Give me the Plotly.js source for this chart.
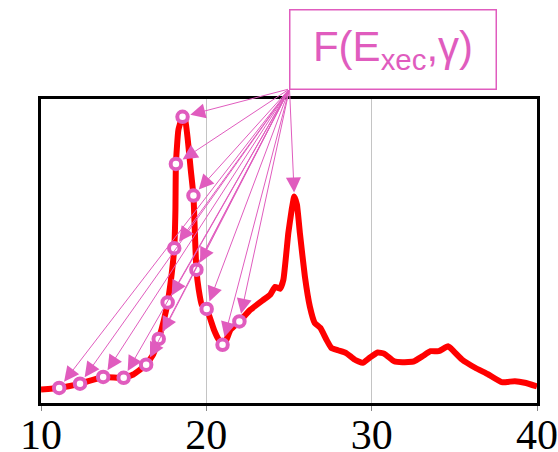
<!DOCTYPE html>
<html>
<head>
<meta charset="utf-8">
<script src="https://cdn.plot.ly/plotly-3.0.1.min.js"></script>
<style>html,body{margin:0;padding:0;background:#fff;}#chart{width:558px;height:452px;}</style>
</head>
<body>
<div id="chart"></div>
<script>
// Spectrum curve
const curveX = [10.0, 11.10, 12.36, 13.76, 15.00, 15.58, 16.36, 16.78, 17.12, 17.44, 17.66, 17.86, 18.06, 18.13, 18.16, 18.31, 18.56, 18.70, 18.88, 19.06, 19.22, 19.30, 19.40, 19.54, 19.72, 20.02, 20.46, 20.74, 20.98, 21.22, 21.46, 22.00, 22.66, 23.46, 23.86, 24.16, 24.46, 24.66, 24.96, 25.16, 25.32, 25.48, 25.66, 25.96, 26.26, 26.56, 26.90, 27.26, 27.56, 27.96, 28.46, 28.96, 29.46, 29.86, 30.36, 30.76, 31.36, 31.86, 32.56, 33.06, 33.56, 34.06, 34.62, 34.96, 35.46, 36.26, 37.06, 37.86, 38.66, 39.26, 40.0];
const curveY = [4.9, 5.4, 6.8, 9.0, 8.7, 9.8, 13.0, 16.3, 21.4, 27.7, 33.3, 40.7, 51.0, 63.5, 78.5, 89.6, 93.9, 93.5, 86.3, 76.5, 68.2, 57.0, 44.0, 37.5, 32.6, 31.2, 24.4, 21.2, 19.5, 21.2, 24.4, 27.1, 30.9, 34.2, 35.8, 38.4, 37.8, 40.7, 56.0, 63.5, 67.9, 65.2, 55.9, 41.8, 32.0, 26.6, 25.0, 21.2, 18.5, 17.7, 16.8, 14.7, 13.6, 15.2, 17.0, 16.6, 14.1, 13.8, 14.1, 15.7, 17.4, 17.4, 19.0, 17.4, 14.7, 12.0, 9.8, 7.3, 7.6, 7.1, 5.9];

// Marked points F(Exec, gamma)
const markX = [18.56, 18.16, 19.22, 18.06, 19.40, 17.66, 20.02, 17.12, 20.98, 22.00, 16.36, 15.00, 13.76, 12.36, 11.10];
const markY = [93.9, 78.5, 68.2, 51.0, 44.0, 33.3, 31.2, 21.4, 19.5, 27.1, 13.0, 8.7, 9.0, 6.8, 5.4];

// Second peak target
const peakX = [25.32];
const peakY = [67.9];

// Common arrow origin (box corner)
const tailX = 25.03;
const tailY = 103.0;

const xTicks = [10, 20, 30, 40];
const labelText = 'F(E<sub>xec</sub>,γ)';

const pink = '#e05cbe';

const traces = [
  {
    x: curveX, y: curveY, type: 'scatter', mode: 'lines',
    line: {color: '#ff0000', width: 6, shape: 'spline', smoothing: 0.4},
    hoverinfo: 'skip', showlegend: false
  },
  {
    x: markX, y: markY, type: 'scatter', mode: 'markers',
    marker: {symbol: 'circle', size: 10.5, color: '#ffffff', line: {color: pink, width: 4}},
    showlegend: false
  }
];

const annotations = [];
markX.forEach((x, i) => {
  annotations.push({
    x: x, y: markY[i], xref: 'x', yref: 'y',
    ax: tailX, ay: tailY, axref: 'x', ayref: 'y',
    text: '', showarrow: true, arrowhead: 2, arrowsize: 3, arrowwidth: 1,
    arrowcolor: pink, standoff: 8
  });
});
peakX.forEach((x, i) => {
  annotations.push({
    x: x, y: peakY[i], xref: 'x', yref: 'y',
    ax: tailX, ay: tailY, axref: 'x', ayref: 'y',
    text: '', showarrow: true, arrowhead: 2, arrowsize: 3, arrowwidth: 1,
    arrowcolor: pink, standoff: 4
  });
});
annotations.push({
  xref: 'paper', yref: 'paper', x: 0.5, y: 1.2964,
  xanchor: 'left', yanchor: 'top',
  text: labelText, showarrow: false,
  font: {family: 'Liberation Sans, Arial, sans-serif', size: 42, color: pink},
  bordercolor: pink, borderwidth: 1.5, borderpad: 2,
  bgcolor: '#ffffff', width: 201, height: 74, align: 'center', valign: 'middle'
});

const layout = {
  width: 558, height: 452,
  margin: {l: 40.5, r: 20.5, t: 99, b: 48.5, pad: 0},
  paper_bgcolor: '#ffffff', plot_bgcolor: '#ffffff',
  showlegend: false,
  xaxis: {
    range: [10, 40], tickvals: xTicks, ticktext: xTicks.map(String),
    showgrid: true, gridcolor: '#c4c4c4', gridwidth: 1.5,
    showline: true, linecolor: '#000000', linewidth: 3, mirror: true,
    ticks: 'outside', ticklen: 5, tickcolor: '#888888', tickwidth: 1,
    ticklabelstandoff: -12,
    tickfont: {family: 'Liberation Serif, Times New Roman, serif', size: 42, color: '#000000'},
    zeroline: false
  },
  yaxis: {
    range: [0.5, 99.7], showgrid: false, zeroline: false,
    showline: true, linecolor: '#000000', linewidth: 3, mirror: true,
    showticklabels: false, ticks: ''
  },
  annotations: annotations
};

Plotly.newPlot('chart', traces, layout, {displayModeBar: false, staticPlot: true});
</script>
</body>
</html>
